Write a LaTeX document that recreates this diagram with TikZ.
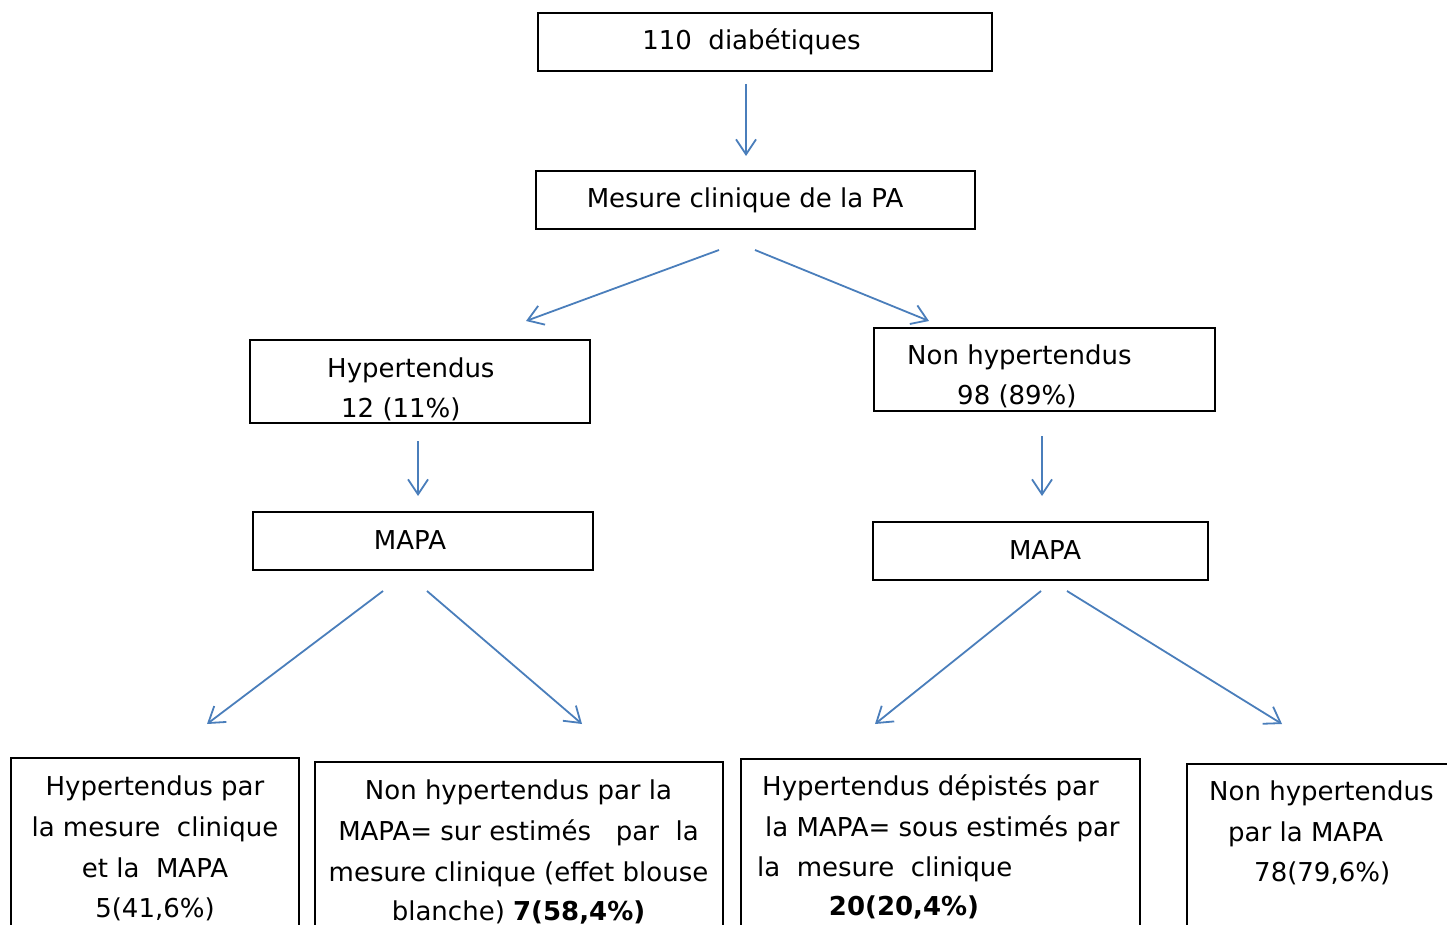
\documentclass[tikz,border=0pt]{standalone}
\usepackage{fontspec}
\setmainfont{DejaVu Sans}
\usetikzlibrary{arrows.meta}
\definecolor{arrowblue}{RGB}{74,126,187}
\tikzset{
  box/.style={draw=black, line width=2pt, rectangle, inner sep=0pt},
  txt/.style={inner sep=0pt, font=\fontsize{26}{30}\selectfont},
  tl/.style={txt, anchor=base west},
  tc/.style={txt, anchor=base},
  arr/.style={draw=arrowblue, line width=1.8pt, -{Straight Barb[length=15pt,width=20pt,line width=1.8pt]}}
}
\begin{document}
\begin{tikzpicture}[x=1pt,y=-1pt]
\useasboundingbox (0,0) rectangle (1447,925);
\clip (0,0) rectangle (1447,925);
% boxes
\node[box, minimum width=454pt, minimum height=58pt] (b1) at (765,42) {};
\node[box, minimum width=439pt, minimum height=58pt] (b2) at (755.5,200) {};
\node[box, minimum width=340pt, minimum height=83pt] (b3) at (420,381.5) {};
\node[box, minimum width=341pt, minimum height=83pt] (b4) at (1044.5,369.5) {};
\node[box, minimum width=340pt, minimum height=58pt] (b5) at (423,541) {};
\node[box, minimum width=335pt, minimum height=58pt] (b6) at (1040.5,551) {};
\node[box, minimum width=288pt, minimum height=200pt] (c1) at (155,858) {};
\node[box, minimum width=408pt, minimum height=200pt] (c2) at (519,862) {};
\node[box, minimum width=399pt, minimum height=200pt] (c3) at (940.5,859) {};
\node[box, minimum width=290pt, minimum height=200pt] (c4) at (1332,864) {};
% texts
\node[tc] (t1) at (751.5,50) {110\ \ diabétiques};
\node[tc] (t2) at (745,208) {Mesure clinique de la PA};
\node[tl] (t3a) at (327,377) {Hypertendus};
\node[tl] (t3b) at (341,417) {12 (11\%)};
\node[tl] (t4a) at (907,364) {Non hypertendus};
\node[tl] (t4b) at (957,404) {98 (89\%)};
\node[tc] (t5) at (410,549) {MAPA};
\node[tc] (t6) at (1045,559) {MAPA};
\node[tc] (c1a) at (155,795) {Hypertendus par};
\node[tc] (c1b) at (155,836) {la mesure\ \ clinique};
\node[tc] (c1c) at (155,877) {et la\ \ MAPA};
\node[tc] (c1d) at (155,917) {5(41,6\%)};
\node[tc] (c2a) at (518.5,799) {Non hypertendus par la};
\node[tc] (c2b) at (518.5,840) {MAPA= sur estimés\ \ \ par\ \ la};
\node[tc] (c2c) at (518.5,881) {mesure clinique (effet blouse};
\node[tc] (c2d) at (518.5,920) {blanche) \textbf{7(58,4\%)}};
\node[tl] (c3a) at (762,795) {Hypertendus dépistés par};
\node[tl] (c3b) at (765,836) {la MAPA= sous estimés par};
\node[tl] (c3c) at (757,876) {la\ \ mesure\ \ clinique};
\node[tc] (c3d) at (904,915) {\textbf{20(20,4\%)}};
\node[tl] (c4a) at (1209,800) {Non hypertendus};
\node[tl] (c4b) at (1228,841) {par la MAPA};
\node[tl] (c4c) at (1254,881) {78(79,6\%)};
% arrow end points
\coordinate (a1s) at (746,84);   \coordinate (a1e) at (746,156);
\coordinate (a2s) at (719,250);  \coordinate (a2e) at (526,321);
\coordinate (a3s) at (755,250);  \coordinate (a3e) at (929,321);
\coordinate (a4s) at (418,441);  \coordinate (a4e) at (418,496);
\coordinate (a5s) at (1042,436); \coordinate (a5e) at (1042,496);
\coordinate (a6s) at (383,591);  \coordinate (a6e) at (207,724);
\coordinate (a7s) at (427,591);  \coordinate (a7e) at (582,724);
\coordinate (a8s) at (1041,591); \coordinate (a8e) at (875,724);
\coordinate (a9s) at (1067,591); \coordinate (a9e) at (1282,724);
\draw[arr] (a1s) -- (a1e);
\draw[arr] (a2s) -- (a2e);
\draw[arr] (a3s) -- (a3e);
\draw[arr] (a4s) -- (a4e);
\draw[arr] (a5s) -- (a5e);
\draw[arr] (a6s) -- (a6e);
\draw[arr] (a7s) -- (a7e);
\draw[arr] (a8s) -- (a8e);
\draw[arr] (a9s) -- (a9e);
\end{tikzpicture}
\end{document}
